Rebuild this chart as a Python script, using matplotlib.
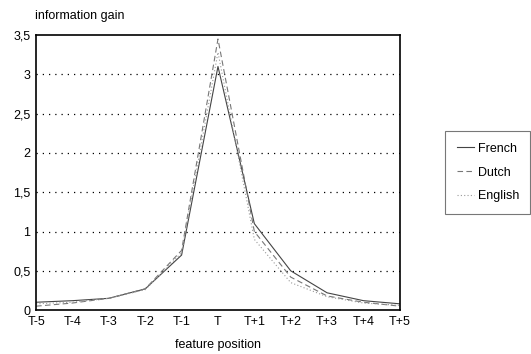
import matplotlib
matplotlib.use("Agg")
import matplotlib.pyplot as plt
from matplotlib.ticker import FuncFormatter

# positions des attributs et gain d'information par langue
positions = ["T-5", "T-4", "T-3", "T-2", "T-1", "T", "T+1", "T+2", "T+3", "T+4", "T+5"]
french = [0.10, 0.12, 0.15, 0.27, 0.70, 3.10, 1.10, 0.50, 0.22, 0.12, 0.08]
dutch = [0.05, 0.09, 0.15, 0.27, 0.76, 3.45, 1.00, 0.42, 0.18, 0.10, 0.05]
english = [0.08, 0.10, 0.15, 0.26, 0.73, 3.28, 0.90, 0.35, 0.17, 0.09, 0.06]
y_ticks = [0, 0.5, 1, 1.5, 2, 2.5, 3, 3.5]

plt.rcParams["font.family"] = ["Liberation Sans", "DejaVu Sans"]

fig = plt.figure(figsize=(5.31, 3.54), dpi=100)
ax = fig.add_axes([0.068, 0.124, 0.685, 0.777])

x = range(len(positions))
ax.plot(x, french, color="#444444", lw=0.8, ls="-", label="French")
ax.plot(x, dutch, color="#777777", lw=0.8, ls=(0, (5, 3)), label="Dutch")
ax.plot(x, english, color="#999999", lw=0.8, ls=(0, (1, 2)), label="English")

ax.set_xlim(0, len(positions) - 1)
ax.set_ylim(0, 3.5)
ax.set_xticks(list(x))
ax.set_xticklabels(positions)
ax.set_yticks(y_ticks)
ax.yaxis.set_major_formatter(FuncFormatter(lambda v, p: ("%g" % v).replace(".", ",")))
ax.tick_params(length=0, labelsize=9, pad=4)
for g in y_ticks[1:-1]:
    ax.axhline(g, color="black", lw=0.9, ls=(0, (1, 4)), zorder=0)
for s in ax.spines.values():
    s.set_linewidth(1.2)

ax.set_xlabel("feature position", fontsize=9, labelpad=8)
fig.text(0.066, 0.955, "information gain", fontsize=9, va="center", ha="left")

leg = ax.legend(loc="center left", bbox_to_anchor=(1.125, 0.5), borderaxespad=0,
                fontsize=9, frameon=True, fancybox=False, edgecolor="#555555",
                handlelength=1.4, handletextpad=0.3, labelspacing=0.95,
                borderpad=0.9)
leg.get_frame().set_linewidth(0.8)

fig.savefig("out.png", dpi=100)
